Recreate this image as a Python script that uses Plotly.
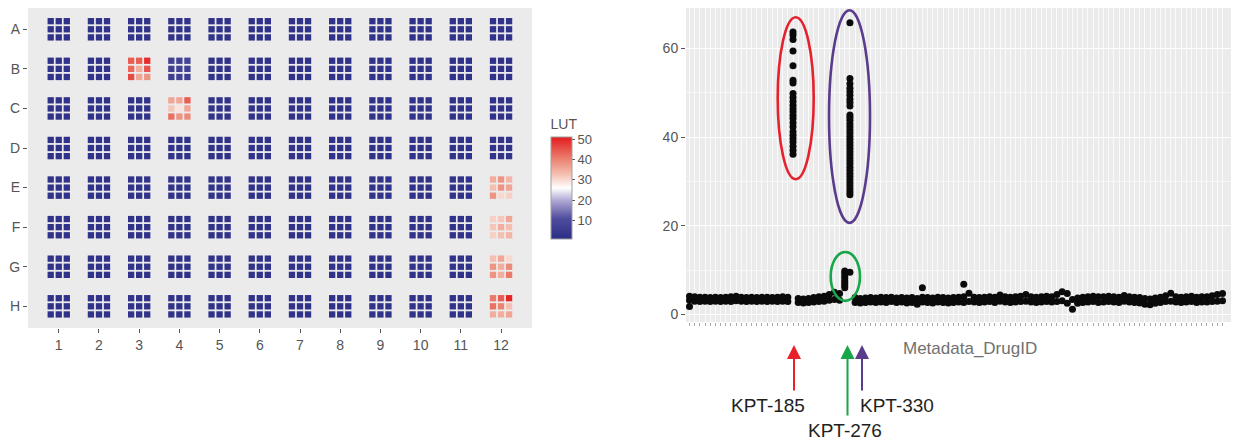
import plotly.graph_objects as go

# ---------------- data: plate map (left) ----------------
row_labels = ["A", "B", "C", "D", "E", "F", "G", "H"]
col_labels = [str(i) for i in range(1, 13)]

# typical LUT per well (fields share this value unless listed below)
well_lut = [
    [2.4, 2.6, 2.5, 2.7, 2.5, 2.4, 2.6, 2.5, 2.6, 2.4, 2.5, 2.7],
    [2.6, 2.5, 44.0, 7.0, 2.5, 2.6, 2.4, 2.5, 2.6, 2.5, 2.4, 2.6],
    [2.5, 2.4, 2.6, 36.0, 2.6, 2.5, 2.6, 2.4, 2.5, 2.6, 2.5, 2.8],
    [2.4, 2.6, 2.5, 2.5, 2.4, 2.6, 2.5, 2.6, 2.4, 2.5, 2.6, 2.9],
    [2.5, 2.4, 2.6, 2.5, 2.6, 2.4, 2.5, 2.5, 2.6, 2.4, 2.6, 34.0],
    [2.6, 2.5, 2.4, 2.6, 2.5, 2.6, 2.4, 2.6, 2.5, 2.5, 2.7, 33.0],
    [2.5, 2.6, 2.5, 2.4, 2.6, 2.5, 2.6, 2.5, 2.4, 2.6, 2.5, 36.0],
    [2.4, 2.5, 2.6, 2.5, 2.4, 2.5, 2.5, 2.4, 2.6, 2.5, 2.6, 39.0],
]

# per-field LUT values (3x3 fields, row-major) for wells that stand out
field_lut = {
    "B3": [44, 44, 49, 43, 35, 45, 46, 36, 38],
    "B4": [7, 7, 8, 6, 7, 7, 6, 7, 6],
    "C4": [36, 36, 44, 32, 29, 36, 42, 38, 39],
    "E12": [35, 38, 34, 33, 38, 36, 38, 30, 31],
    "F12": [31, 32, 36, 32, 35, 33, 31, 33, 34],
    "G12": [33, 36, 30, 38, 35, 39, 38, 35, 41],
    "H12": [41, 44, 50, 42, 40, 33, 35, 35, 36],
}

# ---------------- data: per-drug scatter (right) ----------------
n_drugs = 104
drug_index = list(range(1, n_drugs + 1))

base_lo = [
    3.2, 3.0, 2.9, 3.0, 2.9, 3.0, 2.9, 3.0, 2.9, 3.1,
    3.0, 2.9, 3.0, 2.9, 3.0, 2.9, 3.0, 2.9, 3.0, 2.9,
    None, 2.7, 2.6, 2.7, 2.8, 2.9, 3.0, 3.2, 3.4, 3.2,
    None, None, 2.7, 2.6, 2.7, 2.8, 2.7, 2.8, 2.7, 2.9,
    2.7, 2.8, 2.6, 2.7, 2.3, 2.8, 2.7, 2.6, 2.8, 2.7,
    2.6, 2.7, 2.8, 2.7, 2.9, 2.8, 2.7, 2.8, 2.9, 2.7,
    3.0, 2.8, 2.7, 2.8, 2.9, 3.0, 2.8, 2.7, 2.8, 2.9,
    2.8, 2.9, 3.1, 2.5, 1.2, 2.5, 2.7, 2.8, 2.9, 2.7,
    2.8, 2.9, 2.8, 2.7, 3.0, 2.8, 2.7, 2.6, 2.3, 2.2,
    2.5, 2.7, 2.9, 3.0, 2.8, 2.7, 2.8, 2.9, 2.7, 2.8,
    2.8, 2.9, 3.0, 3.1,
]
base_hi = [
    4.1, 4.0, 3.9, 3.9, 3.8, 3.9, 3.8, 3.9, 4.0, 4.1,
    3.9, 3.8, 3.9, 3.8, 3.9, 3.9, 3.8, 3.9, 4.0, 3.9,
    None, 3.6, 3.5, 3.6, 3.8, 4.0, 4.1, 4.5, 5.0, 4.7,
    None, None, 3.8, 3.6, 3.7, 3.8, 3.7, 3.9, 3.8, 3.9,
    3.7, 3.8, 3.7, 3.8, 3.6, 3.9, 3.8, 3.7, 3.9, 3.8,
    3.7, 3.8, 3.9, 4.0, 4.8, 3.9, 3.8, 3.9, 4.0, 3.9,
    4.4, 4.0, 3.9, 4.0, 4.1, 4.5, 4.0, 3.9, 4.0, 4.1,
    4.0, 4.5, 5.1, 4.7, 3.4, 3.7, 3.9, 4.0, 4.1, 4.0,
    4.0, 4.1, 4.0, 3.9, 4.3, 4.0, 3.9, 3.8, 3.6, 3.5,
    3.7, 3.9, 4.2, 4.8, 4.0, 3.9, 4.0, 4.1, 3.9, 4.0,
    4.0, 4.2, 4.5, 4.7,
]
extra_idx = [1, 46, 54]
extra_val = [1.8, 6.0, 6.8]

kpt185_idx = 21
kpt185_vals = [63.7, 63.0, 62.0, 59.4, 56.1, 52.8, 52.2, 49.8, 48.9, 48.0, 47.2, 46.4,
               45.7, 44.9, 44.2, 43.2, 42.3, 41.2, 40.4, 39.7, 38.9, 37.9, 37.0, 36.1]
kpt276_idx = 31
kpt276_vals = [9.8, 9.3, 8.7, 8.1, 7.5, 7.0, 6.5, 6.0]
kpt330_idx = 32
kpt330_vals = [65.8, 53.2, 52.0, 51.0, 50.2, 49.4, 48.5, 47.8, 47.0, 45.0, 44.4, 43.8,
               43.0, 42.3, 41.6, 40.9, 40.2, 39.5, 38.8, 38.1, 37.4, 36.7, 36.0, 35.3,
               34.6, 33.9, 33.2, 32.5, 31.8, 31.1, 30.4, 29.7, 29.0, 28.3, 27.6, 27.0, 9.5]

# ---------------- build figure ----------------
W, H = 1233, 442
FONT = "Liberation Sans, Arial, sans-serif"
TICK_C = "#555555"

def px_x(p):
    return p / W

def px_y(p):
    return (H - p) / H

fx, fy, fc = [], [], []
for ri, r in enumerate(row_labels):
    for ci, c in enumerate(col_labels):
        vals = field_lut.get(r + c, [well_lut[ri][ci]] * 9)
        for f in range(9):
            frow, fcol = divmod(f, 3)
            fx.append(ci + 1 + (fcol - 1) * 0.2)
            fy.append(ri + 1 + (frow - 1) * 0.205)
            fc.append(vals[f])

colorscale = [
    [0.0, "#2B2E86"], [0.2, "#4F4C9D"], [0.38, "#B1AAD4"], [0.5, "#FFFFFF"],
    [0.62, "#F5C6B9"], [0.78, "#EC8371"], [1.0, "#E31B1D"],
]

fig = go.Figure()
fig.add_trace(go.Scatter(
    x=fx, y=fy, mode="markers", xaxis="x", yaxis="y", hoverinfo="skip",
    marker=dict(symbol="square", size=6.3, color=fc, cmin=1, cmax=51,
                colorscale=colorscale, line=dict(width=0),
                colorbar=dict(
                    title=dict(text="LUT", side="top",
                               font=dict(family=FONT, size=14, color="#555555")),
                    x=px_x(551), xanchor="left", y=px_y(116), yanchor="top",
                    len=123, lenmode="pixels", thickness=21, thicknessmode="pixels",
                    xpad=0, ypad=0, outlinewidth=1, outlinecolor="#A0A0A0",
                    ticks="outside", ticklen=3, tickcolor=TICK_C,
                    tickvals=[10, 20, 30, 40, 50],
                    tickfont=dict(family=FONT, size=13, color=TICK_C))),
    showlegend=False))

# right panel points
sx, sy = [], []
for k, lo, hi in zip(drug_index, base_lo, base_hi):
    if lo is not None:
        sx += [k, k]
        sy += [lo, hi]
sx += extra_idx
sy += extra_val
sx += [kpt185_idx] * len(kpt185_vals)
sy += kpt185_vals
sx += [kpt276_idx] * len(kpt276_vals)
sy += kpt276_vals
sx += [kpt330_idx] * len(kpt330_vals)
sy += kpt330_vals

fig.add_trace(go.Scatter(
    x=sx, y=sy, mode="markers", xaxis="x2", yaxis="y2", hoverinfo="skip",
    marker=dict(color="#0A0A0A", size=7, line=dict(width=0)), showlegend=False))

tickfont = dict(family=FONT, size=14, color=TICK_C)
fig.update_layout(
    width=W, height=H, margin=dict(l=0, r=0, t=0, b=0),
    paper_bgcolor="white", plot_bgcolor="#EBEBEB",
    font=dict(family=FONT),
    xaxis=dict(domain=[px_x(28), px_x(532)], range=[0.235, 12.77],
               tickvals=list(range(1, 13)), ticktext=col_labels,
               ticks="outside", ticklen=4, tickcolor=TICK_C, tickfont=tickfont,
               showgrid=False, zeroline=False, showline=False, anchor="y"),
    yaxis=dict(domain=[px_y(328), px_y(8)], range=[8.548, 0.462],
               tickvals=list(range(1, 9)), ticktext=row_labels,
               ticks="outside", ticklen=4, tickcolor=TICK_C, tickfont=tickfont,
               showgrid=False, zeroline=False, showline=False, anchor="x"),
    xaxis2=dict(domain=[px_x(686), px_x(1231)], range=[0.32, 105.64],
                tickvals=drug_index, ticktext=[""] * n_drugs,
                ticks="outside", ticklen=3, tickcolor="#A8A8A8",
                showgrid=True, gridcolor="#FAFAFA", gridwidth=1,
                zeroline=False, showline=False, anchor="y2"),
    yaxis2=dict(domain=[px_y(322), px_y(8)], range=[-1.7, 69.1],
                tickvals=[0, 20, 40, 60], ticks="outside", ticklen=4,
                tickcolor=TICK_C, tickfont=tickfont,
                showgrid=True, gridcolor="white", gridwidth=1.2,
                minor=dict(tickvals=[10, 30, 50], showgrid=True,
                           gridcolor="#F6F6F6", gridwidth=0.6, ticks=""),
                zeroline=False, showline=False, anchor="x2"),
)

# ellipses around clusters
ellipses = [
    (18.04, 25.0, 30.5, 67.0, "#E5212E"),
    (27.96, 35.88, 20.65, 68.6, "#5B3B8C"),
    (28.28, 33.94, 3.07, 14.1, "#18A64A"),
]
for x0, x1, y0, y1, col in ellipses:
    fig.add_shape(type="circle", xref="x2", yref="y2", x0=x0, x1=x1, y0=y0, y1=y1,
                  line=dict(color=col, width=2.6), layer="above")

# axis title
fig.add_annotation(text="Metadata_DrugID", xref="paper", yref="paper",
                   x=px_x(970), y=px_y(348), xanchor="center", yanchor="middle",
                   showarrow=False, font=dict(family=FONT, size=17, color="#707070"))

# arrows
arrows = [(794, 47, "#E8202A"), (847.5, 72, "#17A64A"), (862, 47, "#5B3B8C")]
for xp, length, col in arrows:
    fig.add_annotation(text="", xref="paper", yref="paper", x=px_x(xp), y=px_y(345),
                       ax=0, ay=length, showarrow=True, arrowhead=2, arrowsize=1.4,
                       arrowwidth=2, arrowcolor=col, standoff=0, startstandoff=0)

labels = [("KPT-185", 768, 405, "center"), ("KPT-330", 858, 405, "left"),
          ("KPT-276", 845, 430, "center")]
for txt, xp, yp, anchor in labels:
    fig.add_annotation(text=txt, xref="paper", yref="paper", x=px_x(xp), y=px_y(yp),
                       xanchor=anchor, yanchor="middle", showarrow=False,
                       font=dict(family=FONT, size=19, color="#231F20"))

fig.write_html(
    "out.html",
    config={"displayModeBar": False},
    post_script="document.body.style.margin='0px';document.body.style.overflow='hidden';",
)
